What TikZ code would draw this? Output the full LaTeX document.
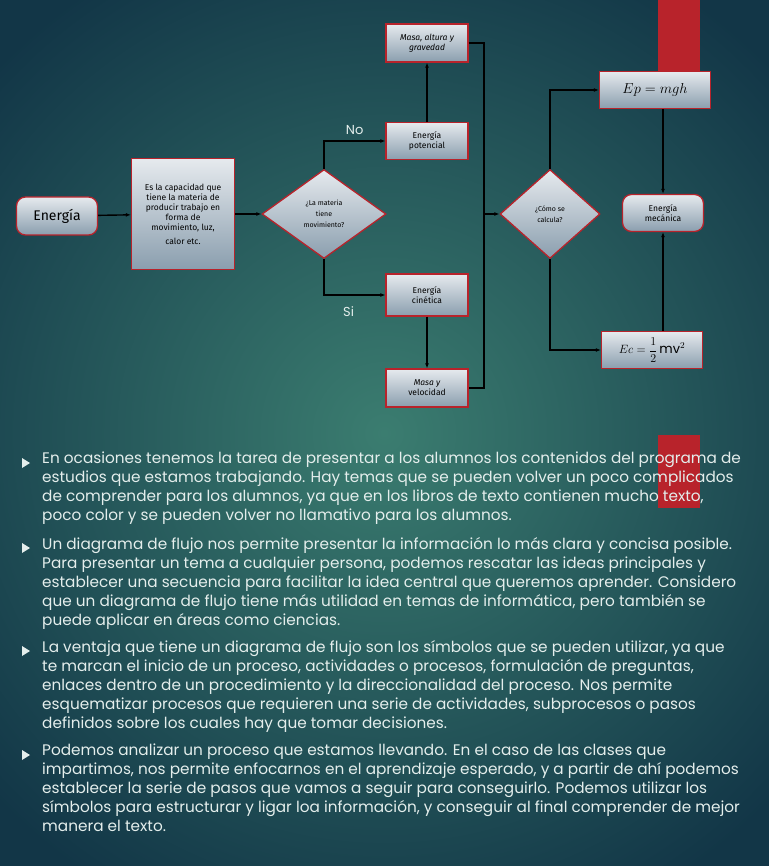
\documentclass[tikz,border=0pt]{standalone}
\usepackage{fontspec}
\setmainfont{Poppins}
\newfontfamily\boxfont{Fira Sans}
\usetikzlibrary{positioning,shapes.geometric,arrows.meta}
\definecolor{bgin}{HTML}{3B7D70}
\definecolor{bgout}{HTML}{123647}
\definecolor{boxred}{HTML}{B8232B}
\definecolor{boxtop}{HTML}{E6EAEE}
\definecolor{boxbot}{HTML}{8A9EAE}
\definecolor{txt}{HTML}{E4EEEC}
\tikzset{
  box/.style={draw=boxred, line width=1.3pt, top color=boxtop, bottom color=boxbot,
    align=center, font=\boxfont\fontsize{8.5}{10}\selectfont, inner sep=2pt},
  endbox/.style={box, rounded corners=9pt},
  ask/.style={box, diamond, inner sep=0pt},
  link/.style={line width=1.4pt, -{Latex[length=5pt,width=4pt]}},
  para/.style={anchor=north west, align=left, text=txt, font=\fontsize{15.3}{19}\selectfont, inner sep=0pt},
  tick/.style={fill=txt}
}
\begin{document}
\begin{tikzpicture}[x=1pt,y=-1pt]
  \useasboundingbox (0,0) rectangle (768,866);
  \shade [inner color=bgin, outer color=bgout] (-150,-100) rectangle (918,966);
  \fill [boxred] (658,0) rectangle (700,72);
  \fill [boxred] (658,435) rectangle (700,508);

  % left part of the chart
  \node [endbox, minimum width=81pt, minimum height=38pt, font=\boxfont\fontsize{14}{16}\selectfont] (energia) at (57,216) {Energía};
  \node [box, minimum width=103pt, minimum height=111pt] (def) at (183,214)
    {Es la capacidad que\\ tiene la materia de\\ producir trabajo en\\ forma de\\ movimiento, luz,\\[4pt] calor etc.};
  \node [ask, minimum width=124pt, minimum height=89pt, font=\boxfont\fontsize{7}{11}\selectfont] (mov) at (324,214)
    {¿La materia\\ tiene\\ movimiento?};
  \node [box, minimum width=82pt, minimum height=37pt] (pot) at (427,141) {Energía\\ potencial};
  \node [box, minimum width=82pt, minimum height=38pt] (mag) at (427,43) {\itshape Masa, altura y\\ \itshape gravedad};
  \node [box, minimum width=82pt, minimum height=42pt] (cin) at (427,295) {Energía\\ cinética};
  \node [box, minimum width=82pt, minimum height=38pt] (mv) at (427,388) {\itshape Masa y\\ velocidad};

  % right part of the chart
  \node [ask, minimum width=100pt, minimum height=89pt, font=\boxfont\fontsize{7}{11}\selectfont] (calc) at (550,214)
    {¿Cómo se\\ calcula?};
  \node [box, minimum width=111pt, minimum height=37pt, font=\fontsize{15}{17}\selectfont] (ep) at (655,90) {$Ep = mgh$};
  \node [endbox, minimum width=81pt, minimum height=37pt] (mec) at (663,213) {Energía\\ mecánica};
  \node [box, minimum width=101pt, minimum height=37pt, inner sep=0pt, font=\fontsize{13}{15}\selectfont] (ec) at (652,350) {$\displaystyle Ec = \frac{1}{2}\,\mathrm{mv}^2$};

  \coordinate (bus) at (484,214);
  \draw [link] (energia) -- (def);
  \draw [link] (def) -- (mov);
  \draw [link] (mov.north) |- (pot.west) node [pos=0.75, above=2pt, text=txt, font=\fontsize{13}{15}\selectfont] {No};
  \draw [link] (mov.south) |- (cin.west) node [pos=0.7, below=8pt, text=txt, font=\fontsize{13}{15}\selectfont] {Si};
  \draw [link] (pot) -- (mag);
  \draw [link] (cin) -- (mv);
  \draw [line width=1.4pt] (mag.east) -| (bus) |- (mv.east);
  \draw [link] (bus) -- (calc.west);
  \draw [link] (calc.north) |- (ep.west);
  \draw [link] (calc.south) |- (ec.west);
  \draw [link] (ep.south -| mec.north) -- (mec.north);
  \draw [link] (ec.north -| mec.south) -- (mec.south);

  % text below
  \foreach \y in {463,548,651,755}
    \fill [tick] (22,\y-5) -- (30,\y) -- (22,\y+5) -- cycle;
  \node [para] (p1) at (42,452) {En ocasiones tenemos la tarea de presentar a los alumnos los contenidos del programa de\\
    estudios que estamos trabajando. Hay temas que se pueden volver un poco complicados\\
    de comprender para los alumnos, ya que en los libros de texto contienen mucho texto,\\
    poco color y se pueden volver no llamativo para los alumnos.};
  \node [para] (p2) at (42,537) {Un diagrama de flujo nos permite presentar la información lo más clara y concisa posible.\\
    Para presentar un tema a cualquier persona, podemos rescatar las ideas principales y\\
    establecer una secuencia para facilitar la idea central que queremos aprender. Considero\\
    que un diagrama de flujo tiene más utilidad en temas de informática, pero también se\\
    puede aplicar en áreas como ciencias.};
  \node [para] (p3) at (42,640) {La ventaja que tiene un diagrama de flujo son los símbolos que se pueden utilizar, ya que\\
    te marcan el inicio de un proceso, actividades o procesos, formulación de preguntas,\\
    enlaces dentro de un procedimiento y la direccionalidad del proceso. Nos permite\\
    esquematizar procesos que requieren una serie de actividades, subprocesos o pasos\\
    definidos sobre los cuales hay que tomar decisiones.};
  \node [para] (p4) at (42,744) {Podemos analizar un proceso que estamos llevando. En el caso de las clases que\\
    impartimos, nos permite enfocarnos en el aprendizaje esperado, y a partir de ahí podemos\\
    establecer la serie de pasos que vamos a seguir para conseguirlo. Podemos utilizar los\\
    símbolos para estructurar y ligar loa información, y conseguir al final comprender de mejor\\
    manera el texto.};
\end{tikzpicture}
\end{document}
